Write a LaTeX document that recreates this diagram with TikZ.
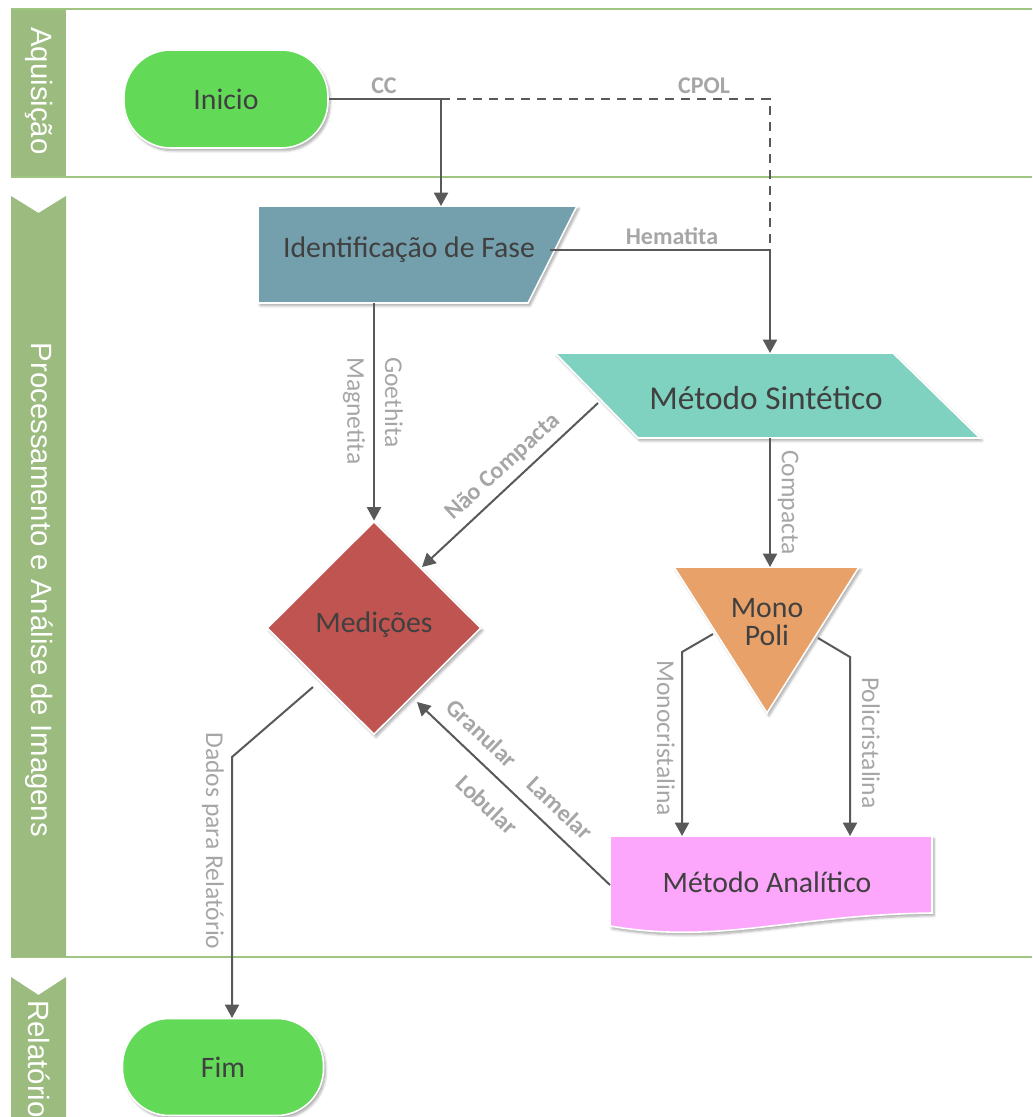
\documentclass[tikz,border=0pt]{standalone}
\usepackage{fontspec}
\setmainfont{Carlito}
\newfontfamily\lanefont{Liberation Sans}
\usetikzlibrary{arrows.meta,shadows.blur,shapes.geometric,calc}

\definecolor{lanegreen}{RGB}{155,187,127}
\definecolor{lanelinec}{RGB}{160,196,130}
\definecolor{startgreen}{RGB}{98,217,87}
\definecolor{idblue}{RGB}{116,159,172}
\definecolor{sintcyan}{RGB}{127,210,192}
\definecolor{medred}{RGB}{192,84,80}
\definecolor{monoorange}{RGB}{232,161,104}
\definecolor{anapink}{RGB}{252,166,252}
\definecolor{conn}{RGB}{89,89,89}
\definecolor{lbl}{RGB}{166,166,166}
\definecolor{txt}{RGB}{64,64,64}

\begin{document}
\begin{tikzpicture}[x=0.75pt,y=-0.75pt,
  shapefill/.style={draw=white, line width=1.2pt,
    blur shadow={shadow xshift=1.5pt, shadow yshift=-2pt, shadow opacity=35, shadow blur steps=6}},
  nodetext/.style={text=txt, font=\fontsize{22.3}{22}\selectfont, align=center, inner sep=0pt},
  lanetext/.style={text=white, font=\lanefont\fontsize{22}{24}\selectfont, rotate=-90, inner sep=0pt},
  laneline/.style={draw=lanelinec, line width=1.5pt},
  flow/.style={draw=conn, line width=1.5pt, -{Triangle[length=10pt,width=10.5pt]}},
  link/.style={draw=conn, line width=1.5pt},
  dashlink/.style={draw=conn, line width=1.5pt, dash pattern=on 7pt off 5pt},
  elabel/.style={text=lbl, font=\bfseries\fontsize{18}{20}\selectfont, inner sep=0pt},
  vlabel/.style={text=lbl, font=\fontsize{19.2}{20}\selectfont, rotate=-90, inner sep=0pt, anchor=west}
]
\useasboundingbox (0,0) rectangle (1032,1117);
\clip (0,0) rectangle (1032,1117);

% lane boundary lines
\draw[laneline] (11,9) -- (1032,9);
\draw[laneline] (11,176.5) -- (1032,176.5);
\draw[laneline] (11,956.5) -- (1032,956.5);

% lane headers
\fill[lanegreen] (11,10) rectangle (66,176);
\fill[lanegreen] (11,196) -- (38.5,213) -- (66,196) -- (66,957) -- (11,957) -- cycle;
\fill[lanegreen] (11,977) -- (38.5,995) -- (66,977) -- (66,1125) -- (11,1125) -- cycle;
\node[lanetext] (laneA) at (39,91) {Aquisição};
\node[lanetext] (laneB) at (39,590) {Processamento e Análise de Imagens};
\node[lanetext, anchor=west] (laneC) at (39,1000) {Relatório};

% shapes
\node[shapefill, fill=startgreen, rounded corners=35pt, minimum width=153pt, minimum height=73.5pt,
      nodetext] (inicio) at (226,99) {Inicio};

\path[shapefill, fill=idblue] (258,206) -- (577,206) -- (528,303) -- (258,303) -- cycle;
\node[nodetext] (ident) at (409,250) {Identificação de Fase};

\path[shapefill, fill=sintcyan] (555,353) -- (893,353) -- (980,438) -- (638,438) -- cycle;
\node[nodetext, font=\fontsize{25}{25}\selectfont] (sint) at (766,398) {Método Sintético};

\node[shapefill, fill=medred, diamond, minimum width=160.5pt, minimum height=160pt, inner sep=0pt] (med) at (374,628) {};
\node[nodetext] (medtext) at (374,625) {Medições};

\path[shapefill, fill=monoorange] (674,567) -- (859,567) -- (767,713) -- cycle;
\node[nodetext, font=\fontsize{22.3}{21.5}\selectfont] (mono) at (767,622) {Mono\\Poli};

\path[shapefill, fill=anapink] (610,836) -- (932,836) -- (932,913)
   .. controls (790,915) and (720,945) .. (610,926) -- cycle;
\node[nodetext] (ana) at (767,882) {Método Analítico};

\node[shapefill, fill=startgreen, rounded corners=35pt, minimum width=150.75pt, minimum height=72.75pt,
      nodetext] (fim) at (223,1067) {Fim};

% connector end points on shape borders
\coordinate (ccBend) at (441,99);
\coordinate (idTop) at (441,206);
\coordinate (cpolCorner) at (770,99);
\coordinate (hemCorner) at (770,250);
\coordinate (idEast) at (550,250);
\coordinate (sintTop) at (770,353);
\coordinate (idBot) at (374,303);
\coordinate (sintWest) at (598,403);
\coordinate (ncEnd) at (422,567);
\coordinate (sintBot) at (770,438);
\coordinate (triTop) at (770,567);
\coordinate (triLeft) at (713,634);
\coordinate (monoBend) at (682,652);
\coordinate (anaTopL) at (682,836);
\coordinate (triRight) at (818,638);
\coordinate (poliBend) at (850,657);
\coordinate (anaTopR) at (850,836);
\coordinate (anaWest) at (610,885);
\coordinate (granEnd) at (417,702);
\coordinate (medSW) at (313,687);
\coordinate (dadosBend) at (232,757);
\coordinate (fimTop) at (232,1018);

% connectors
\draw[flow] (inicio.east) -- (ccBend) -- (idTop);
\draw[dashlink] (ccBend) -- (cpolCorner) -- (hemCorner);
\draw[flow] (idEast) -- (hemCorner) -- (sintTop);
\draw[flow] (idBot) -- (med.north);
\draw[flow] (sintWest) -- (ncEnd);
\draw[flow] (sintBot) -- (triTop);
\draw[flow] (triLeft) -- (monoBend) -- (anaTopL);
\draw[flow] (triRight) -- (poliBend) -- (anaTopR);
\draw[flow] (anaWest) -- (granEnd);
\draw[flow] (medSW) -- (dadosBend) -- (fimTop);

% connector labels
\node[elabel] (lcc) at (384,86) {CC};
\node[elabel] (lcpol) at (704,86) {CPOL};
\node[elabel] (lhem) at (672,236) {Hematita};
\node[vlabel] (lgoe) at (394,357) {Goethita};
\node[vlabel] (lmag) at (354,357) {Magnetita};
\node[elabel, rotate=42.5] (lnc) at (503,467) {Não Compacta};
\node[vlabel] (lcomp) at (788,450) {Compacta};
\node[vlabel] (lmono) at (666,660) {Monocristalina};
\node[vlabel] (lpoli) at (871,677) {Policristalina};
\node[elabel, rotate=-43.5] (lgran) at (482,733) {Granular};
\node[elabel, rotate=-43.5] (llob) at (487,805) {Lobular};
\node[elabel, rotate=-43.5] (llam) at (560,808) {Lamelar};
\node[vlabel] (ldados) at (213,732) {Dados para Relatório};
\end{tikzpicture}
\end{document}
